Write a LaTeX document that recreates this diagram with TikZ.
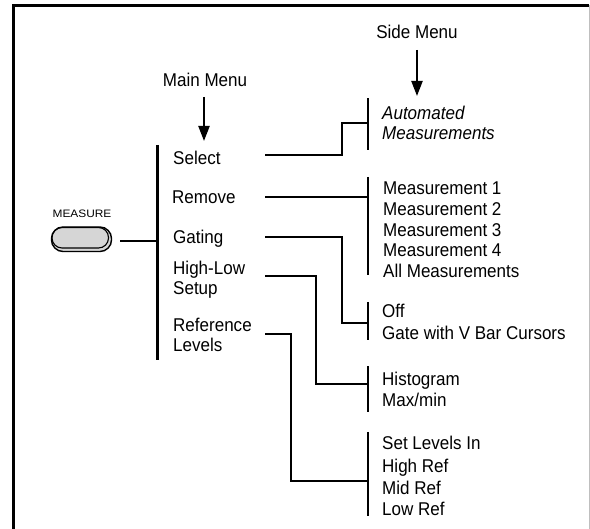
\documentclass[tikz,border=0pt]{standalone}
\usepackage{fontspec}
\setmainfont[FakeStretch=0.92]{Liberation Sans}
\newfontfamily\btnfont[FakeStretch=1.1]{Liberation Sans}
\usetikzlibrary{arrows.meta}
\begin{document}
\begin{tikzpicture}[x=1pt,y=-1pt,
  lbl/.style={anchor=base west,inner sep=0pt,font=\fontsize{18.5}{20.8}\selectfont},
  ttl/.style={anchor=base,inner sep=0pt,font=\fontsize{18.5}{20.8}\selectfont},
  wire/.style={line width=2.2pt,line cap=butt},
  bar/.style={line width=2.2pt},
  pointer/.style={line width=2.2pt,-{Triangle[length=15pt,width=11pt]}},
  frame/.style={line width=3pt}]
\useasboundingbox (0,0) rectangle (590,529);
% frame
\draw[frame] (13,529) -- (13,5.5) -- (588.5,5.5);
\draw[line width=0.8pt,black!25] (589,5.5) -- (589,529);

% titles and arrows
\node[ttl] (mm) at (205,87) {Main Menu};
\node[ttl] (sm) at (417,39) {Side Menu};
\coordinate (mmtip) at (204,141);
\coordinate (smtip) at (417,96);
\draw[pointer] (204,97) -- (mmtip);
\draw[pointer] (417,50) -- (smtip);

% button
\node[inner sep=0pt,anchor=base,font=\btnfont\fontsize{10.8}{12}\selectfont] (mlbl) at (82,217.5) {MEASURE};
\draw[line width=1.4pt,fill=black!16,rounded corners=11.5pt] (51.5,227) rectangle (111.5,251.5);
\draw[line width=1.1pt,rounded corners=10pt] (52,227.5) rectangle (108.5,248);
\coordinate (btn) at (120,241);

% main menu bar
\coordinate (mbT) at (157.5,145);
\coordinate (mbB) at (157.5,360);
\draw[bar] (mbT) -- (mbB);
\draw[wire] (btn) -- (157.5,241);

% main menu items
\node[lbl] (sel) at (173,165) {Select};
\node[lbl] (rem) at (172,204) {Remove};
\node[lbl] (gat) at (173,243.5) {Gating};
\node[lbl] (hl1) at (173,275) {High-Low};
\node[lbl] (hl2) at (173,295) {Setup};
\node[lbl] (rl1) at (173,331.5) {Reference};
\node[lbl] (rl2) at (173,351.5) {Levels};

% side menu bars
\draw[bar] (368.3,98.5) -- (368.3,150);
\draw[bar] (368.3,177) -- (368.3,275);
\draw[bar] (368.3,302) -- (368.3,340);
\draw[bar] (368.3,366.5) -- (368.3,412.5);
\draw[bar] (368.3,432) -- (368.3,516.5);

% side menu items
\node[lbl,font=\fontsize{18.5}{20.8}\selectfont\itshape] (am1) at (382,119.5) {Automated};
\node[lbl,font=\fontsize{18.5}{20.8}\selectfont\itshape] (am2) at (382,140) {Measurements};
\node[lbl] (m1) at (383,194.5) {Measurement 1};
\node[lbl] (m2) at (383,215.3) {Measurement 2};
\node[lbl] (m3) at (383,236.1) {Measurement 3};
\node[lbl] (m4) at (383,256.9) {Measurement 4};
\node[lbl] (mall) at (383,277.7) {All Measurements};
\node[lbl] (off) at (382,318) {Off};
\node[lbl] (gv) at (382,339.5) {Gate with V Bar Cursors};
\node[lbl] (hist) at (382,386) {Histogram};
\node[lbl] (mx) at (382,406.7) {Max/min};
\node[lbl] (sli) at (382,450) {Set Levels In};
\node[lbl] (hr) at (382,473) {High Ref};
\node[lbl] (mr) at (382,494.3) {Mid Ref};
\node[lbl] (lr) at (382,515.3) {Low Ref};

% connectors
\coordinate (c1) at (265,155);
\coordinate (c2) at (265,196.7);
\coordinate (c3) at (265,236.7);
\coordinate (c4) at (265,275.7);
\coordinate (c5) at (265,334);
\draw[wire] (c1) -- (341.7,155) -- (341.7,122.7) -- (368.3,122.7);
\draw[wire] (c2) -- (368.3,196.7);
\draw[wire] (c3) -- (341.7,236.7) -- (341.7,322.7) -- (368.3,322.7);
\draw[wire] (c4) -- (316,275.7) -- (316,384.3) -- (368.3,384.3);
\draw[wire] (c5) -- (291.3,334) -- (291.3,480.7) -- (368.3,480.7);
\end{tikzpicture}
\end{document}
